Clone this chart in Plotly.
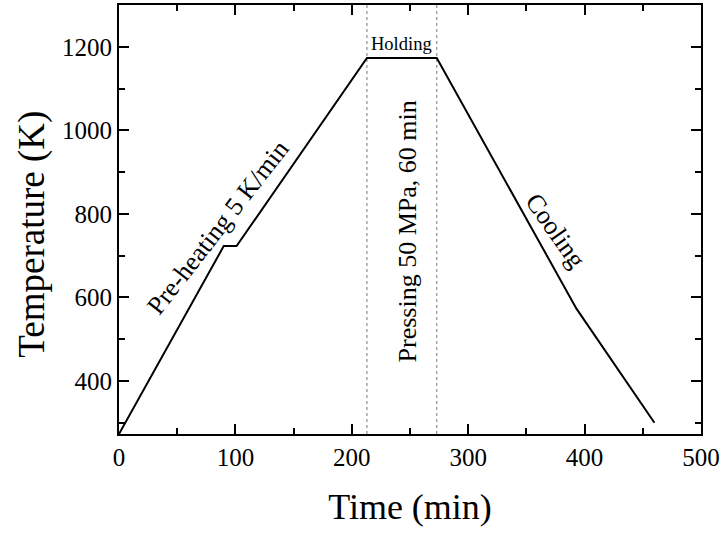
import plotly.graph_objects as go

# Data
time_min = [0, 90, 101, 213, 273, 393, 460]
temp_K = [273, 723, 723, 1173, 1173, 573, 300]
holding_bounds = [213, 273]
y_range = [273, 1300]
x_range = [0, 500]
x_ticks = [0, 100, 200, 300, 400, 500]
y_ticks = [400, 600, 800, 1000, 1200]

FONT = "Liberation Serif, Times New Roman, serif"

fig = go.Figure()

for xb in holding_bounds:
    fig.add_trace(go.Scatter(
        x=[xb, xb], y=y_range, mode="lines",
        line=dict(color="#777777", width=1, dash="dot"),
        showlegend=False, hoverinfo="skip"))

fig.add_trace(go.Scatter(
    x=time_min, y=temp_K, mode="lines",
    line=dict(color="black", width=2),
    showlegend=False))

annotations = [
    dict(text="Holding", x=242.5, y=1206, textangle=0, size=18.5),
    dict(text="Pressing 50 MPa, 60 min", x=248, y=757, textangle=-90, size=26),
    dict(text="Pre-heating 5 K/min", x=85, y=767, textangle=-52, size=26),
    dict(text="Cooling", x=375, y=761, textangle=55, size=26),
]
for a in annotations:
    fig.add_annotation(
        x=a["x"], y=a["y"], xref="x", yref="y", text=a["text"],
        textangle=a["textangle"], showarrow=False,
        xanchor="center", yanchor="middle",
        font=dict(family=FONT, size=a["size"], color="black"))

# y-axis title placed as paper annotation to match reference position
fig.add_annotation(
    x=-0.1495, y=0.467, xref="paper", yref="paper", text="Temperature (K)",
    textangle=-90, showarrow=False, xanchor="center", yanchor="middle",
    font=dict(family=FONT, size=37, color="black"))

axis_common = dict(
    showgrid=False, zeroline=False,
    showline=True, linecolor="black", linewidth=2, mirror="ticks",
    ticks="inside", ticklen=10, tickwidth=1.5, tickcolor="black",
    tickfont=dict(family=FONT, size=25, color="black"),
)

fig.update_xaxes(
    range=x_range, tickvals=x_ticks,
    title=dict(text="Time (min)", font=dict(family=FONT, size=36, color="black"), standoff=24),
    minor=dict(ticks="inside", ticklen=6, tickwidth=1.5, tickcolor="black", dtick=50, tick0=0),
    **axis_common)
fig.update_yaxes(
    range=y_range, tickvals=y_ticks,
    minor=dict(ticks="inside", ticklen=6, tickwidth=1.5, tickcolor="black", dtick=200, tick0=300),
    **axis_common)

fig.update_layout(
    width=723, height=533,
    margin=dict(l=119, r=22, t=5, b=99, autoexpand=False),
    paper_bgcolor="white", plot_bgcolor="white",
    font=dict(family=FONT, color="black"),
)

fig.write_html("out.html", config={"displayModeBar": False},
               post_script="document.body.style.margin='0px';")
